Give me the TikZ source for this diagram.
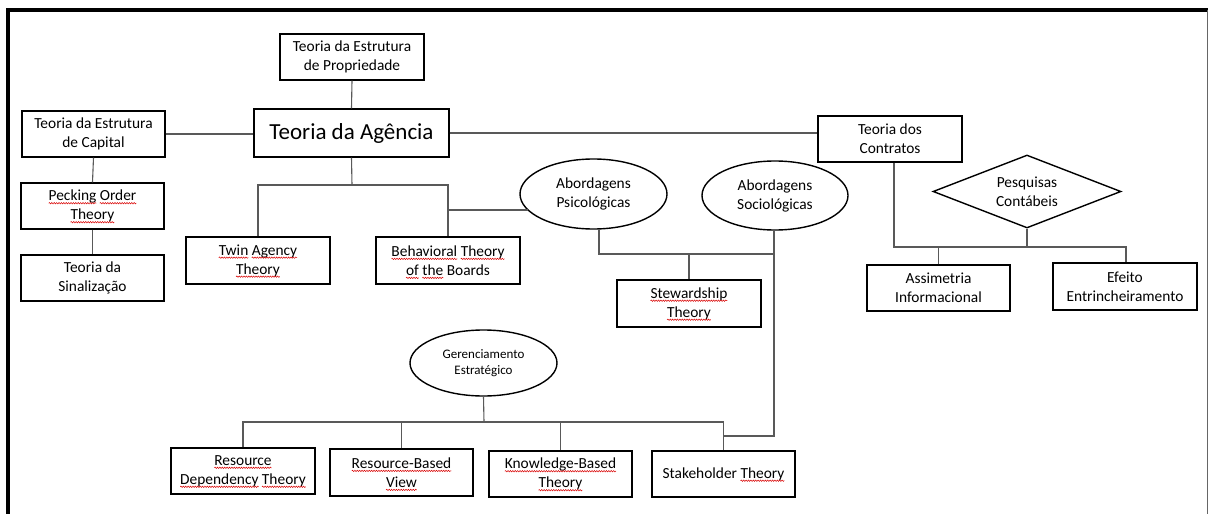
\documentclass[tikz,border=0pt]{standalone}
\usepackage{fontspec}
\setmainfont{Carlito}
\usetikzlibrary{shapes.geometric,calc,decorations.pathmorphing}
\newcommand\wavy[1]{\begin{tikzpicture}[baseline=(w.base),x=1pt,y=1pt]\node[draw=none,fill=none,rectangle,inner sep=0pt,outer sep=0pt,minimum width=0pt,minimum height=0pt,anchor=base](w){#1};\draw[overlay,red!85!black,line width=0.5pt,decorate,decoration={snake,amplitude=0.7pt,segment length=2.4pt}]([yshift=-2.6pt]w.base west)--([yshift=-2.6pt]w.base east);\end{tikzpicture}}
\tikzset{
  box/.style={draw=black, line width=1.4pt, rectangle, inner sep=0pt, align=center,
    minimum width=143pt, minimum height=46pt, font=\fontsize{15.4}{19}\selectfont},
  oval/.style={draw=black, line width=1.4pt, ellipse, inner sep=0pt, align=center,
    minimum width=147pt, minimum height=69pt, font=\fontsize{15.4}{19}\selectfont},
  conn/.style={draw=black!65, line width=1.1pt},
}
\begin{document}
\begin{tikzpicture}[x=1pt,y=-1pt]
\useasboundingbox (0,0) rectangle (1208,514);
% frame
\draw[line width=4pt] (8,514) -- (8,10) -- (1208,10);
\draw[black!60, line width=1pt] (1207,10) -- (1207,514);

\node[box, minimum width=144pt] (prop) at (352,57) {Teoria da Estrutura\\de Propriedade};
\node[box, minimum width=195pt, minimum height=48pt, font=\fontsize{23}{27}\selectfont] (ag) at (351.5,133) {Teoria da Agência};
\node[box] (cap) at (93.5,134) {Teoria da Estrutura\\de Capital};
\node[box] (peck) at (92.5,206) {\wavy{Pecking} \wavy{Order}\\\wavy{Theory}};
\node[box] (sinal) at (92.5,278) {Teoria da\\Sinalização};
\node[box, minimum width=144pt, minimum height=47pt] (twin) at (258,260.5) {\wavy{Twin} \wavy{Agency}\\\wavy{Theory}};
\node[box, minimum width=144pt, minimum height=47pt] (behav) at (448,260.5) {\wavy{Behavioral} \wavy{Theory}\\\wavy{of} \wavy{the} Boards};
\node[oval, minimum height=70pt] (psico) at (593.5,194) {Abordagens\\Psicológicas};
\node[oval, minimum width=146pt] (socio) at (775,195.5) {Abordagens\\Sociológicas};
\node[box, minimum width=144pt, minimum height=47pt] (stew) at (689,303.5) {\wavy{Stewardship}\\\wavy{Theory}};
\node[box, minimum width=144pt] (contr) at (890,139) {Teoria dos\\Contratos};
\node[draw=black, line width=1.4pt, diamond, shape aspect=2.5, inner sep=0pt, align=center,
  minimum width=188pt, minimum height=73pt, font=\fontsize{15.4}{19}\selectfont] (pesq) at (1027,191.5) {Pesquisas\\Contábeis};
\node[box] (assim) at (938.5,288) {Assimetria\\Informacional};
\node[box, minimum width=144pt, minimum height=47pt] (efeito) at (1125,286.5) {Efeito\\Entrincheiramento};
\node[oval, minimum height=66pt, font=\fontsize{13}{16.5}\selectfont] (ger) at (483.5,363) {Gerenciamento\\Estratégico};
\node[box, minimum width=144pt] (rdt) at (243,471) {\wavy{Resource}\\\wavy{Dependency} \wavy{Theory}};
\node[box, minimum height=47pt] (rbv) at (401.5,472.5) {\wavy{Resource-Based}\\\wavy{View}};
\node[box] (kbt) at (560.5,474) {\wavy{Knowledge-Based}\\\wavy{Theory}};
\node[box] (stake) at (723.5,474) {Stakeholder \wavy{Theory}};

% bus coordinates
\coordinate (busA) at (352,185);
\coordinate (bp) at (448,210);
\coordinate (pj) at (599,254);
\coordinate (sj) at (774,254);
\coordinate (sk) at (723.5,436);
\coordinate (gbus) at (484,422);
\coordinate (cbL) at (894,247);
\coordinate (cbR) at (1126,247);

% connectors
\draw[conn] (prop.south) -- (ag.north);
\draw[conn] (cap.east) -- (cap.east -| ag.west);
\draw[conn] (ag.east) -- (ag.east -| contr.west);
\draw[conn] (cap.south) -- (peck.north);
\draw[conn] (peck.south) -- (sinal.north);
\draw[conn] (ag.south) -- (busA);
\draw[conn] (twin.north) |- (busA) -| (behav.north);
\draw[conn] (bp) -- (bp -| psico.194);
\draw[conn] (pj |- psico.south) -- (pj) -- (sj);
\draw[conn] (sj |- socio.south) -- (sj |- sk) -- (sk);
\draw[conn] (stew.north) -- (stew.north |- sj);
\draw[conn] (cbL |- contr.south) -- (cbL) -- (cbR) -- (cbR |- efeito.north);
\draw[conn] (pesq.south) -- (pesq.south |- cbL);
\draw[conn] (assim.north) -- (assim.north |- cbL);
\draw[conn] (ger.south) -- (gbus);
\draw[conn] (rdt.north) |- (stake.north |- gbus) -- (stake.north);
\draw[conn] (rbv.north) -- (rbv.north |- gbus);
\draw[conn] (kbt.north) -- (kbt.north |- gbus);
\end{tikzpicture}
\end{document}
